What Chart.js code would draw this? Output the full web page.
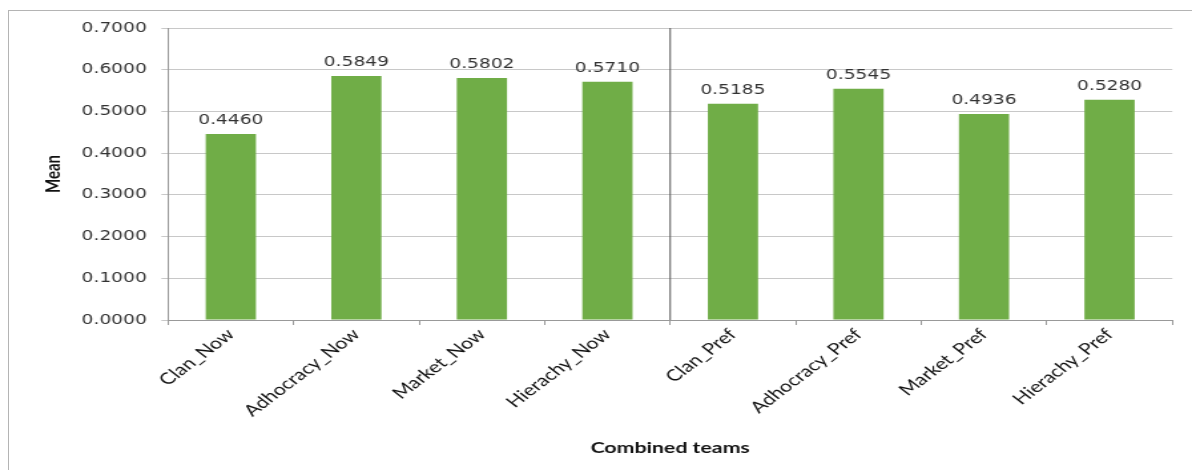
<!DOCTYPE html>
<html lang="en">
<head>
  <meta charset="UTF-8">
  <title>Combined teams - Mean</title>
  <script src="https://cdn.jsdelivr.net/npm/chart.js"></script>
  <style>
    * { margin: 0; padding: 0; box-sizing: border-box; }
    body {
      width: 1192px;
      height: 470px;
      background: #fff;
      overflow: hidden;
      position: relative;
    }
    /* grey frame of the pasted chart, cut at right and bottom */
    .frame {
      position: absolute;
      left: 8px;
      top: 10px;
      width: 1210px;
      height: 480px;
      border: 1px solid #b4b4b4;
    }
    /* the source picture is stretched sideways, so is the canvas */
    #chart {
      position: absolute;
      left: 0;
      top: 0;
      transform-origin: 0 0;
    }
  </style>
</head>
<body>
  <div class="frame"></div>
  <canvas id="chart"></canvas>

  <script>
    const categories = ['Clan_Now', 'Adhocracy_Now', 'Market_Now', 'Hierachy_Now',
                        'Clan_Pref', 'Adhocracy_Pref', 'Market_Pref', 'Hierachy_Pref'];
    const means = [0.4460, 0.5849, 0.5802, 0.5710, 0.5185, 0.5545, 0.4936, 0.5280];
    const yTicks = [0, 0.1, 0.2, 0.3, 0.4, 0.5, 0.6, 0.7];

    const STRETCH = 1.33;
    const W = Math.round(1192 / STRETCH);
    const H = 470;
    const PLOT_LEFT = 168 / STRETCH;
    const PLOT_RIGHT = 1172 / STRETCH;
    const PAD_LEFT = 27;

    const canvas = document.getElementById('chart');
    canvas.width = W;
    canvas.height = H;
    canvas.style.width = W + 'px';
    canvas.style.height = H + 'px';
    canvas.style.transform = `scaleX(${1192 / W})`;

    // numbers over the bars
    const valueLabels = {
      id: 'valueLabels',
      afterDatasetsDraw(chart) {
        const ctx = chart.ctx;
        const meta = chart.getDatasetMeta(0);
        ctx.save();
        ctx.font = '14px "DejaVu Sans"';
        ctx.fillStyle = '#333';
        ctx.textAlign = 'center';
        ctx.textBaseline = 'alphabetic';
        meta.data.forEach((bar, i) => {
          ctx.fillText(means[i].toFixed(4), bar.x, bar.y - 10);
        });
        ctx.restore();
      }
    };

    // dark line between the "Now" and the "Pref" groups
    const groupDivider = {
      id: 'groupDivider',
      afterDraw(chart) {
        const nowCount = categories.filter(c => c.endsWith('_Now')).length;
        const x = chart.scales.x;
        const px = (x.getPixelForValue(nowCount - 1) + x.getPixelForValue(nowCount)) / 2;
        const { top, bottom } = chart.chartArea;
        const ctx = chart.ctx;
        ctx.save();
        ctx.strokeStyle = '#555';
        ctx.lineWidth = 1;
        ctx.beginPath();
        ctx.moveTo(px, top);
        ctx.lineTo(px, bottom);
        ctx.stroke();
        ctx.restore();
      }
    };

    new Chart(canvas.getContext('2d'), {
      type: 'bar',
      data: {
        labels: categories,
        datasets: [{
          label: 'Mean',
          data: means,
          backgroundColor: '#70ad47',
          borderWidth: 0,
          categoryPercentage: 1,
          barPercentage: 0.4
        }]
      },
      options: {
        responsive: false,
        animation: false,
        layout: { padding: { left: PAD_LEFT, right: W - PLOT_RIGHT, top: 28, bottom: 0 } },
        plugins: {
          legend: { display: false },
          tooltip: { enabled: false }
        },
        scales: {
          x: {
            grid: { offset: true, drawOnChartArea: false, drawTicks: true, tickLength: 5, color: '#999' },
            border: { color: '#999' },
            ticks: {
              autoSkip: false,
              minRotation: 45,
              maxRotation: 45,
              padding: 0,
              color: '#111',
              font: { family: 'Lato', size: 16 }
            },
            title: {
              display: true,
              text: 'Combined teams',
              color: '#111',
              font: { family: 'Lato', size: 16, weight: 'bold' },
              padding: { top: 0, bottom: 13 }
            },
            afterFit: s => { s.height = H - 320; }
          },
          y: {
            min: 0,
            max: 0.7,
            afterBuildTicks: s => { s.ticks = yTicks.map(v => ({ value: v })); },
            grid: { color: '#c8c8c8', tickLength: 5 },
            border: { color: '#999' },
            ticks: {
              padding: 11,
              color: '#333',
              font: { family: 'DejaVu Sans', size: 14 },
              callback: v => Number(v).toFixed(4)
            },
            title: {
              display: true,
              text: 'Mean',
              color: '#111',
              font: { family: 'Lato', size: 15, weight: 'bold' },
              padding: { top: 4, bottom: 0 }
            },
            afterFit: s => { s.width = PLOT_LEFT - PAD_LEFT; }
          }
        }
      },
      plugins: [valueLabels, groupDivider]
    });
  </script>
</body>
</html>
